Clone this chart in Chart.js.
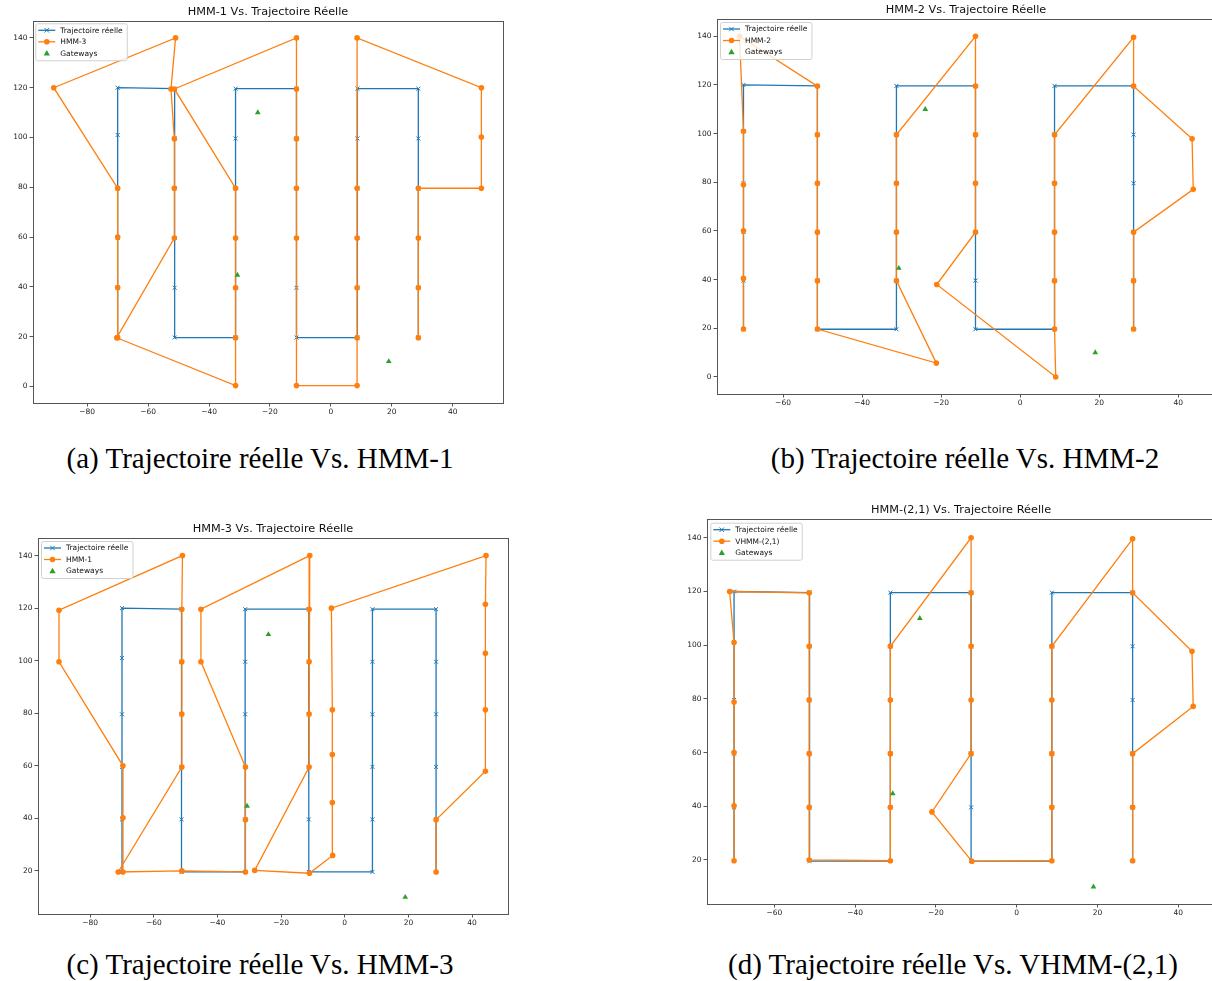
<!DOCTYPE html>
<html>
<head>
<meta charset="utf-8">
<script src="https://cdn.jsdelivr.net/npm/chart.js@4.4.1/dist/chart.umd.min.js"></script>
<style>
body { margin: 0; background: #fff; }
#page { position: relative; width: 1212px; height: 981px; overflow: hidden; }
canvas { position: absolute; }
.cap { position: absolute; font-family: 'Liberation Serif', serif; font-size: 29px; color: #000;
       white-space: nowrap; transform: translate(-50%, -50%); }
</style>
</head>
<body>
<div id="page">
  <canvas id="chartA" width="520" height="425" style="left:0px;top:0px"></canvas>
  <canvas id="chartB" width="540" height="420" style="left:680px;top:0px"></canvas>
  <canvas id="chartC" width="520" height="425" style="left:0px;top:515px"></canvas>
  <canvas id="chartD" width="540" height="425" style="left:680px;top:500px"></canvas>
  <div class="cap" style="left:260px;top:458px">(a) Trajectoire réelle Vs. HMM-1</div>
  <div class="cap" style="left:965px;top:458px">(b) Trajectoire réelle Vs. HMM-2</div>
  <div class="cap" style="left:260px;top:964px">(c) Trajectoire réelle Vs. HMM-3</div>
  <div class="cap" style="left:953px;top:964px">(d) Trajectoire réelle Vs. VHMM-(2,1)</div>
</div>
<script>
// real trajectory (same in all four panels)
var realX = [-70, -70, -70, -70, -70, -70,
             -51.3, -51.3, -51.3, -51.3, -51.3, -51.3,
             -31.3, -31.3, -31.3, -31.3, -31.3, -31.3,
             -11.3, -11.3, -11.3, -11.3, -11.3, -11.3,
             8.7, 8.7, 8.7, 8.7, 8.7, 8.7,
             28.7, 28.7, 28.7, 28.7, 28.7, 28.7];
var realY = [19.6, 39.6, 59.6, 79.6, 101, 120,
             119.6, 99.6, 79.6, 59.6, 39.6, 19.6,
             19.6, 39.6, 59.6, 79.6, 99.6, 119.6,
             119.6, 99.6, 79.6, 59.6, 39.6, 19.6,
             19.6, 39.6, 59.6, 79.6, 99.6, 119.6,
             119.6, 99.6, 79.6, 59.6, 39.6, 19.6];

// panel (a) estimate, legend "HMM-3"
var hmm3X = [-70, -70, -70, -70, -91, -51, -52.5, -51.4, -51.4, -51.4, -70.3,
             -31.3, -31.3, -31.3, -31.3, -31.3, -51.4,
             -11.3, -11.3, -11.3, -11.3, -11.3, -11.3,
             8.6, 8.6, 8.6, 8.6, 8.6, 8.6,
             49.4, 49.4, 49.4, 28.7, 28.7, 28.7, 28.7];
var hmm3Y = [19.5, 39.7, 60, 79.6, 120, 140, 119.5, 99.5, 79.6, 59.6, 19.5,
             0.3, 19.5, 39.6, 59.6, 79.6, 119.5,
             140, 119.5, 99.5, 79.6, 59.6, 0.3,
             0.3, 19.5, 39.6, 59.6, 79.6, 140,
             120, 100.2, 79.6, 79.6, 59.6, 39.6, 19.5];

// panel (b) estimate, legend "HMM-2"
var hmm2X = [-70, -70, -70, -70, -70, -71,
             -51.3, -51.3, -51.3, -51.3, -51.3, -51.3, -21.2,
             -31.3, -31.3, -31.3, -31.3, -11.3,
             -11.3, -11.3, -11.3, -11.3, -21.1, 9,
             8.7, 8.7, 8.7, 8.7, 8.7, 28.7, 28.7,
             43.5, 43.8, 28.7, 28.7, 28.7];
var hmm2Y = [19.7, 40.5, 60.1, 79, 101, 140,
             119.5, 99.5, 79.6, 59.5, 39.5, 19.7, 5.7,
             39.5, 59.5, 79.6, 99.5, 140,
             119.5, 99.5, 79.6, 59.5, 38, 0,
             19.7, 39.5, 59.5, 79.6, 99.5, 139.6, 119.5,
             97.9, 77.1, 59.5, 39.5, 19.7];

// panel (c) estimate, legend "HMM-1"
var hmm1X = [-69.7, -69.7, -69.7, -89.8, -89.8, -51,
             -51.2, -51.2, -51.2, -51.2, -71.2, -51.2,
             -31.2, -31.2, -31.2, -45.2, -45.2, -11,
             -11.2, -11.2, -11.2, -11.2, -28.3, -11.1,
             -3.8, -3.9, -3.9, -3.9, -4.2, 44.4,
             44.2, 44.2, 44.2, 44.2, 28.7, 28.7];
var hmm1Y = [19.6, 40.2, 60, 99.6, 119.2, 140,
             119.6, 99.6, 79.7, 59.5, 19.6, 20,
             19.6, 39.5, 59.5, 99.6, 119.6, 140,
             119.6, 99.6, 79.7, 59.5, 20.2, 19.1,
             25.9, 46, 64.3, 81.3, 120, 140,
             121.5, 102.8, 81.3, 57.9, 39.5, 19.6];

// panel (d) estimate, legend "VHMM-(2,1)"
var vhmmX = [-70, -70, -70, -70, -70, -71.1,
             -51.4, -51.4, -51.4, -51.4, -51.4, -51.4,
             -31.3, -31.3, -31.3, -31.3, -31.3, -11.3,
             -11.3, -11.3, -11.3, -11.3, -21, -11.1,
             8.7, 8.7, 8.7, 8.7, 8.7, 28.7, 28.7,
             43.4, 43.7, 28.7, 28.7, 28.7];
var vhmmY = [19.7, 40.2, 60, 78.8, 101, 120,
             119.5, 99.6, 79.6, 59.6, 39.6, 20,
             19.7, 39.6, 59.6, 79.6, 99.6, 140,
             119.5, 99.6, 79.6, 59.6, 37.9, 19.5,
             19.7, 39.6, 59.6, 79.6, 99.6, 139.6, 119.5,
             97.7, 77.2, 59.6, 39.6, 19.7];

var gatewayX = [-24, -30.7, 19];
var gatewayY = [110, 44.7, 10];

var xTicks = [-80, -60, -40, -20, 0, 20, 40];
var xTicksShort = [-60, -40, -20, 0, 20, 40];
var yTicks = [0, 20, 40, 60, 80, 100, 120, 140];
var yTicksNoZero = [20, 40, 60, 80, 100, 120, 140];

var fontFamily = "'DejaVu Sans', sans-serif";
var frameColor = '#555';

function toPoints(xs, ys) {
    return xs.map(function (x, i) { return { x: x, y: ys[i] }; });
}

function minusSign(v) {
    return String(v).replace('-', '\u2212');
}

function drawMarker(ctx, style, x, y, r, color) {
    ctx.save();
    ctx.fillStyle = color;
    ctx.strokeStyle = color;
    ctx.lineWidth = 1;
    ctx.beginPath();
    if (style === 'circle') {
        ctx.arc(x, y, r, 0, Math.PI * 2);
        ctx.fill();
    } else if (style === 'crossRot') {
        ctx.moveTo(x - r * 0.8, y - r * 0.8); ctx.lineTo(x + r * 0.8, y + r * 0.8);
        ctx.moveTo(x - r * 0.8, y + r * 0.8); ctx.lineTo(x + r * 0.8, y - r * 0.8);
        ctx.stroke();
    } else {
        ctx.moveTo(x, y - r);
        ctx.lineTo(x + r * 0.95, y + r * 0.7);
        ctx.lineTo(x - r * 0.95, y + r * 0.7);
        ctx.closePath();
        ctx.fill();
    }
    ctx.restore();
}

// box around the plot, title above, matplotlib-like legend inside
var mplPlugin = {
    id: 'mpl',
    afterDraw: function (chart, args, opts) {
        var a = chart.chartArea, ctx = chart.ctx;
        ctx.save();
        ctx.strokeStyle = frameColor;
        ctx.lineWidth = 1;
        ctx.strokeRect(Math.round(a.left) + 0.5, Math.round(a.top) + 0.5,
                       Math.round(a.right - a.left), Math.round(a.bottom - a.top));

        ctx.fillStyle = '#111';
        ctx.font = '11.3px ' + fontFamily;
        ctx.textAlign = 'center';
        ctx.textBaseline = 'middle';
        ctx.fillText(opts.title, (a.left + a.right) / 2, a.top - 8.5);

        // legend
        var items = opts.legendOrder.map(function (i) { return chart.data.datasets[i]; });
        ctx.font = '7.5px ' + fontFamily;
        var textW = 0;
        items.forEach(function (d) { textW = Math.max(textW, ctx.measureText(d.label).width); });
        var bx = a.left + opts.legendDx, by = a.top + opts.legendDy;
        var bw = 25 + textW + 4, bh = 37;
        ctx.fillStyle = 'rgba(255,255,255,0.8)';
        ctx.strokeStyle = '#d0d0d0';
        ctx.beginPath();
        ctx.roundRect(bx + 0.5, by + 0.5, bw, bh, 2);
        ctx.fill();
        ctx.stroke();
        items.forEach(function (d, k) {
            var ry = by + 7 + k * 11.5;
            if (d.showLine) {
                ctx.strokeStyle = d.borderColor;
                ctx.lineWidth = 1.3;
                ctx.beginPath();
                ctx.moveTo(bx + 3, ry);
                ctx.lineTo(bx + 20, ry);
                ctx.stroke();
            }
            drawMarker(ctx, d.pointStyle, bx + 11.5, ry, d.pointRadius,
                       d.pointStyle === 'crossRot' ? d.borderColor : d.backgroundColor);
            ctx.fillStyle = '#111';
            ctx.textAlign = 'left';
            ctx.fillText(d.label, bx + 25, ry + 0.5);
        });
        ctx.restore();
    }
};

function panelDatasets(estX, estY, estLabel) {
    return [
        { label: 'Gateways', data: toPoints(gatewayX, gatewayY), showLine: false,
          pointStyle: 'triangle', pointRadius: 3.3, backgroundColor: '#2ca02c',
          borderColor: '#2ca02c', pointBorderWidth: 0, order: 0 },
        { label: estLabel, data: toPoints(estX, estY), showLine: true,
          pointStyle: 'circle', pointRadius: 2.8, backgroundColor: '#ff7f0e',
          borderColor: '#ff7f0e', borderWidth: 1.3, pointBorderWidth: 0, order: 1 },
        { label: 'Trajectoire réelle', data: toPoints(realX, realY), showLine: true,
          pointStyle: 'crossRot', pointRadius: 2.8, backgroundColor: '#1f77b4',
          borderColor: '#1f77b4', borderWidth: 1.3, pointBorderWidth: 1, order: 2 }
    ];
}

function renderPanel(p) {
    var tickFont = { family: fontFamily, size: 7.5 };
    new Chart(document.getElementById(p.id), {
        type: 'scatter',
        data: { datasets: panelDatasets(p.estX, p.estY, p.estLabel) },
        options: {
            responsive: false,
            animation: false,
            devicePixelRatio: 1,
            events: [],
            layout: { padding: { left: 0, top: p.padTop, right: p.padRight, bottom: 0 } },
            scales: {
                x: {
                    type: 'linear', min: p.xMin, max: p.xMax,
                    afterBuildTicks: function (s) { s.ticks = p.xTicks.map(function (v) { return { value: v }; }); },
                    afterFit: function (s) { s.height = p.xAxisH; },
                    ticks: { callback: minusSign, font: tickFont, color: '#222', padding: 1,
                             maxRotation: 0, autoSkip: false },
                    grid: { drawOnChartArea: false, tickLength: 3.5, color: frameColor },
                    border: { color: frameColor }
                },
                y: {
                    type: 'linear', min: p.yMin, max: p.yMax,
                    afterBuildTicks: function (s) { s.ticks = p.yTicks.map(function (v) { return { value: v }; }); },
                    afterFit: function (s) { s.width = p.yAxisW; },
                    ticks: { callback: minusSign, font: tickFont, color: '#222', padding: 2, autoSkip: false },
                    grid: { drawOnChartArea: false, tickLength: 3.5, color: frameColor },
                    border: { color: frameColor }
                }
            },
            plugins: {
                legend: { display: false },
                tooltip: { enabled: false },
                mpl: { title: p.title, legendOrder: [2, 1, 0], legendDx: p.legendDx, legendDy: p.legendDy }
            }
        },
        plugins: [mplPlugin]
    });
}

document.addEventListener('DOMContentLoaded', function () {
    renderPanel({ id: 'chartA', title: 'HMM-1 Vs. Trajectoire Réelle', estX: hmm3X, estY: hmm3Y, estLabel: 'HMM-3',
                  xMin: -97.8, xMax: 56.5, yMin: -6.7, yMax: 146.8, xTicks: xTicks, yTicks: yTicks,
                  yAxisW: 33, xAxisH: 22, padTop: 21, padRight: 17, legendDx: 2.3, legendDy: 2.3 });
    renderPanel({ id: 'chartB', title: 'HMM-2 Vs. Trajectoire Réelle', estX: hmm2X, estY: hmm2Y, estLabel: 'HMM-2',
                  xMin: -76.7, xMax: 49.3, yMin: -7, yMax: 147.1, xTicks: xTicksShort, yTicks: yTicks,
                  yAxisW: 37, xAxisH: 26, padTop: 19, padRight: 4, legendDx: 3, legendDy: 3 });
    renderPanel({ id: 'chartC', title: 'HMM-3 Vs. Trajectoire Réelle', estX: hmm1X, estY: hmm1Y, estLabel: 'HMM-1',
                  xMin: -96.4, xMax: 51.3, yMin: 3.6, yMax: 146.7, xTicks: xTicks, yTicks: yTicksNoZero,
                  yAxisW: 38, xAxisH: 26, padTop: 23, padRight: 12, legendDx: 3, legendDy: 3 });
    renderPanel({ id: 'chartD', title: 'HMM-(2,1) Vs. Trajectoire Réelle', estX: vhmmX, estY: vhmmY, estLabel: 'VHMM-(2,1)',
                  xMin: -76.7, xMax: 49.1, yMin: 3.6, yMax: 147, xTicks: xTicksShort, yTicks: yTicksNoZero,
                  yAxisW: 27, xAxisH: 21, padTop: 19, padRight: 5, legendDx: 3.3, legendDy: 3.7 });
});
</script>
</body>
</html>
